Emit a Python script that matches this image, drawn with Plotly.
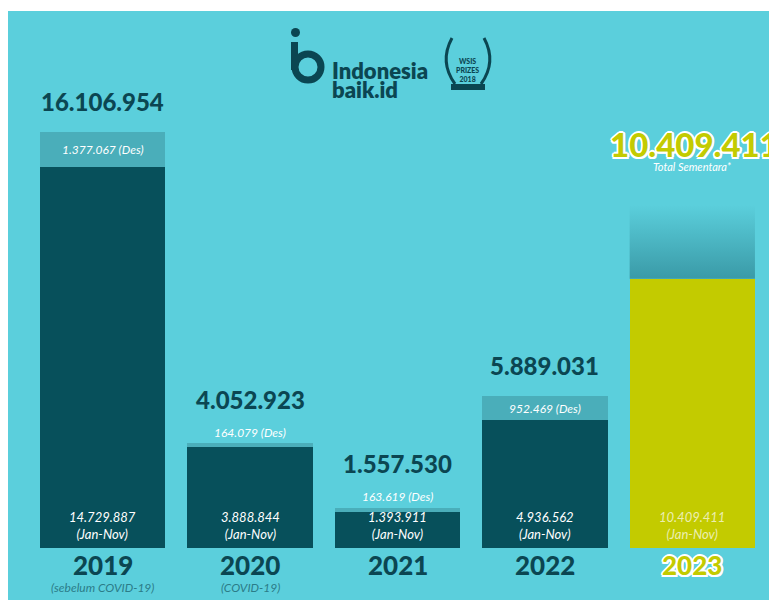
import plotly.graph_objects as go

# ---------------- data ----------------
tahun = ["2019", "2020", "2021", "2022", "2023"]
keterangan = ["(sebelum COVID-19)", "(COVID-19)", "", "", ""]
jan_nov = [14729887, 3888844, 1393911, 4936562, 10409411]
des = [1377067, 164079, 163619, 952469]          # December values 2019-2022
total = [16106954, 4052923, 1557530, 5889031, 10409411]
proyeksi_2023_atas = [13270000]                  # estimated top of the 2023 gradient band

# ---------------- style ----------------
BG = "#5BCFDC"
DARK = "#07505B"
DES_C = "#4AAEBA"
YEL = "#C3CB00"
TXT = "#0B4652"
FONT = "Lato"

W, H = 769, 600
OFF = 0
L, R, T, B = 29, 3, 11, 52
PW, PH = W - L - R, H - T - B
YMAX = 20.77e6
PXU = PH / YMAX  # pixels per unit

def fmt(v):
    return f"{v:,}".replace(",", ".")

def xp(px):
    return (px - OFF - L) / PW

def yp(py):
    return (H - B - (py - OFF)) / PH

idx = list(range(len(tahun)))
BW = 0.85

fig = go.Figure()
fig.add_bar(x=idx[:4], y=jan_nov[:4], width=BW, marker=dict(color=DARK, line=dict(width=0)),
            hoverinfo="skip")
fig.add_bar(x=idx[:4], y=des, width=BW, marker=dict(color=DES_C, line=dict(width=0)),
            hoverinfo="skip")
fig.add_bar(x=[idx[4]], y=[jan_nov[4]], width=BW, marker=dict(color=YEL, line=dict(width=0)),
            hoverinfo="skip")

# gradient band above 2023
x0, x1 = idx[4] - BW / 2, idx[4] + BW / 2
fig.add_trace(go.Scatter(
    x=[x0, x1, x1, x0, x0],
    y=[jan_nov[4], jan_nov[4], proyeksi_2023_atas[0], proyeksi_2023_atas[0], jan_nov[4]],
    mode="lines", line=dict(width=0), fill="toself",
    fillgradient=dict(type="vertical", colorscale=[[0, "#3A9AA7"], [1, BG]]),
    hoverinfo="skip", showlegend=False))

ann = []
OUT = ", ".join(f"white {a}px {b}px 0" for a, b in
                [(2, 0), (-2, 0), (0, 2), (0, -2), (1.5, 1.5), (-1.5, -1.5), (1.5, -1.5), (-1.5, 1.5)])

for i in idx:
    col = "white" if i < 4 else "rgba(255,255,255,0.7)"
    ann.append(dict(x=i, y=0, yref="y", text=f"{fmt(jan_nov[i])}<br>(Jan-Nov)", showarrow=False,
                    yanchor="bottom", yshift=4,
                    font=dict(family=FONT, size=13, color=col, style="italic")))
    if i < 4:
        ann.append(dict(x=i, y=0, text=tahun[i], showarrow=False, yanchor="top", yshift=1,
                        font=dict(family=FONT, size=26, color=TXT, weight=900)))
    else:
        ann.append(dict(x=i, y=0, text=tahun[i], showarrow=False, yanchor="top", yshift=1,
                        font=dict(family=FONT, size=26, color=YEL, weight=900, shadow=OUT)))
    if keterangan[i]:
        ann.append(dict(x=i, y=0, text=keterangan[i], showarrow=False, yanchor="top", yshift=-30,
                        font=dict(family=FONT, size=12, color="#2B7C88", style="italic")))

for i in range(4):
    seg_px = des[i] * PXU
    if seg_px >= 20:
        ann.append(dict(x=i, y=jan_nov[i] + des[i] / 2, text=f"{fmt(des[i])} (Des)", showarrow=False,
                        font=dict(family=FONT, size=12, color="white", style="italic")))
        ann.append(dict(x=i, y=total[i], text=fmt(total[i]), showarrow=False, yshift=30,
                        font=dict(family=FONT, size=24, color=TXT, weight=900)))
    else:
        ann.append(dict(x=i, y=total[i], text=f"{fmt(des[i])} (Des)", showarrow=False, yshift=11,
                        font=dict(family=FONT, size=12, color="white", style="italic")))
        ann.append(dict(x=i, y=total[i], text=fmt(total[i]), showarrow=False, yshift=44,
                        font=dict(family=FONT, size=24, color=TXT, weight=900)))

# 2023 headline
ann.append(dict(x=idx[4], y=proyeksi_2023_atas[0], text=fmt(total[4]), showarrow=False, yshift=61,
                xshift=2, font=dict(family=FONT, size=33, color=YEL, weight=900, shadow=OUT)))
ann.append(dict(x=idx[4], y=proyeksi_2023_atas[0], text="Total Sementara*", showarrow=False, yshift=38,
                font=dict(family=FONT, size=11, color="white", style="italic")))

# logo text
ann.append(dict(xref="paper", yref="paper", x=xp(330), y=yp(55), xanchor="left", text="Indonesia",
                showarrow=False, font=dict(family=FONT, size=22, color=TXT, weight=800)))
ann.append(dict(xref="paper", yref="paper", x=xp(330), y=yp(74), xanchor="left", text="baik.id",
                showarrow=False, font=dict(family=FONT, size=22, color=TXT, weight=800)))
ann.append(dict(xref="paper", yref="paper", x=xp(468), y=yp(55), text="WSIS<br>PRIZES<br>2018",
                showarrow=False, font=dict(family=FONT, size=7, color=TXT, weight=900)))

shapes = [
    # white frame strips (left and top)
    dict(type="rect", xref="paper", yref="paper", x0=xp(-5), x1=xp(8), y0=yp(610), y1=yp(-5),
         fillcolor="white", line=dict(width=0), layer="above"),
    dict(type="rect", xref="paper", yref="paper", x0=xp(-5), x1=xp(780), y0=yp(11), y1=yp(-5),
         fillcolor="white", line=dict(width=0), layer="above"),
    # logo: dot, stem, ring
    dict(type="circle", xref="paper", yref="paper", x0=xp(291), x1=xp(300), y0=yp(37), y1=yp(28),
         fillcolor=TXT, line=dict(width=0)),
    dict(type="rect", xref="paper", yref="paper", x0=xp(291), x1=xp(298), y0=yp(70), y1=yp(42),
         fillcolor=TXT, line=dict(width=0)),
    dict(type="circle", xref="paper", yref="paper", x0=xp(295), x1=xp(321), y0=yp(80), y1=yp(54),
         fillcolor="rgba(0,0,0,0)", line=dict(width=7, color=TXT)),
    # WSIS laurel and ribbon
    dict(type="path", xref="paper", yref="paper",
         path=f"M {xp(452)},{yp(38)} Q {xp(439)},{yp(62)} {xp(455)},{yp(84)}",
         line=dict(width=3, color=TXT)),
    dict(type="path", xref="paper", yref="paper",
         path=f"M {xp(484)},{yp(38)} Q {xp(497)},{yp(62)} {xp(481)},{yp(84)}",
         line=dict(width=3, color=TXT)),
    dict(type="rect", xref="paper", yref="paper", x0=xp(451), x1=xp(485), y0=yp(90), y1=yp(84),
         fillcolor=TXT, line=dict(width=0)),
]

fig.update_layout(
    width=W, height=H,
    margin=dict(l=L, r=R, t=T, b=B, pad=0),
    paper_bgcolor=BG, plot_bgcolor=BG,
    barmode="stack", bargap=0, showlegend=False,
    xaxis=dict(range=[-0.5, 4.5], visible=False, fixedrange=True),
    yaxis=dict(range=[0, YMAX], visible=False, fixedrange=True),
    annotations=ann, shapes=shapes,
    font=dict(family=FONT),
)

fig.write_html("out.html", config={"displayModeBar": False},
               post_script="document.body.style.margin='0';document.body.style.overflow='hidden';")
